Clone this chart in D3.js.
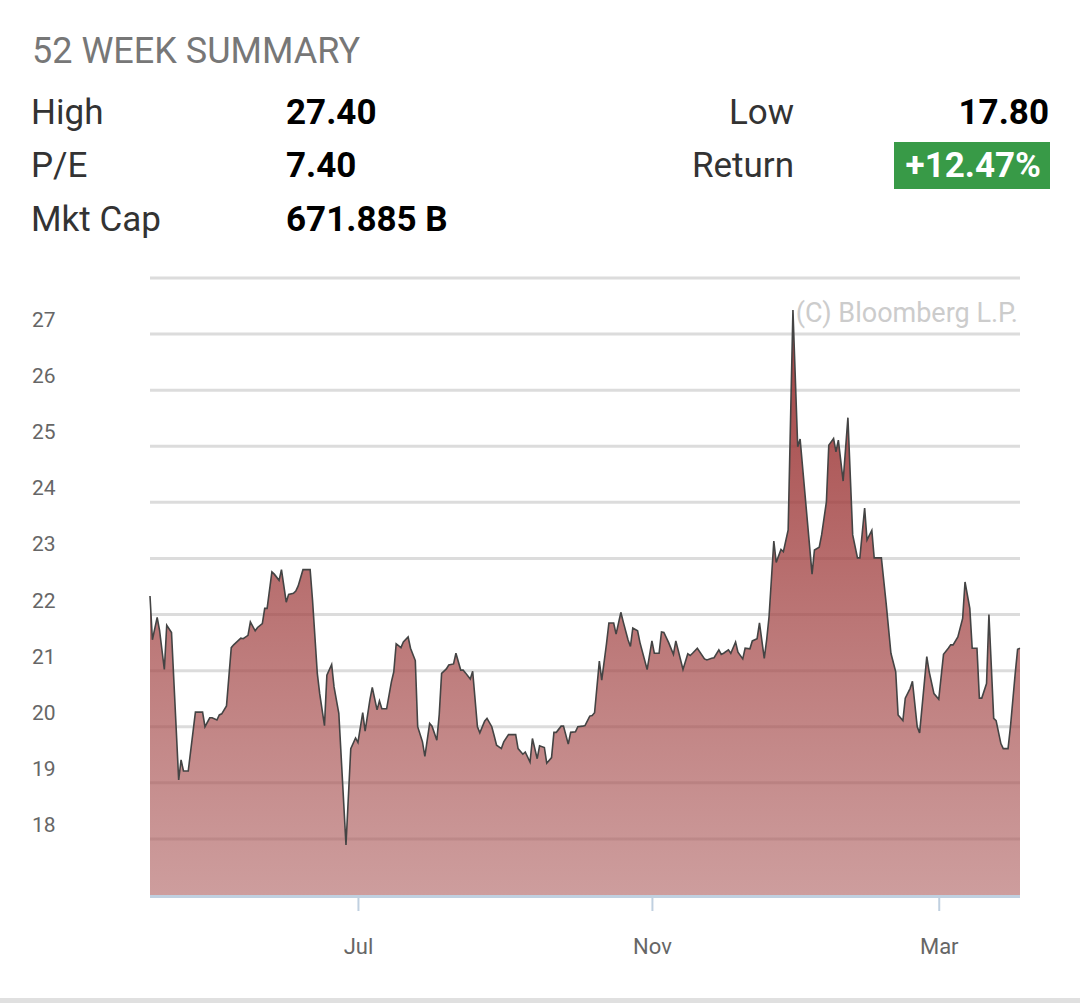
<!DOCTYPE html>
<html>
<head>
<meta charset="utf-8">
<script src="https://cdn.jsdelivr.net/npm/d3@7"></script>
<style>
  body { margin: 0; background: #fff; }
  svg { display: block; font-family: Roboto, "Noto Sans", sans-serif; }
</style>
</head>
<body>
<script>
// summary figures shown in the header
const summaryLeft = [["High", "27.40"], ["P/E", "7.40"], ["Mkt Cap", "671.885 B"]];
const summaryRight = [["Low", "17.80"], ["Return", "+12.47%"]];

// price path
const dates = [
  "2018-04-05","2018-04-06","2018-04-08","2018-04-09","2018-04-11","2018-04-12","2018-04-14","2018-04-17",
  "2018-04-18","2018-04-19","2018-04-21","2018-04-24","2018-04-27","2018-04-28","2018-04-30","2018-05-01",
  "2018-05-03","2018-05-04","2018-05-05","2018-05-07","2018-05-09","2018-05-10","2018-05-11","2018-05-13",
  "2018-05-14","2018-05-16","2018-05-17","2018-05-19","2018-05-20","2018-05-22","2018-05-23","2018-05-24",
  "2018-05-26","2018-05-27","2018-05-29","2018-05-30","2018-06-01","2018-06-02","2018-06-04","2018-06-05",
  "2018-06-06","2018-06-08","2018-06-09","2018-06-11","2018-06-12","2018-06-14","2018-06-15","2018-06-17",
  "2018-06-18","2018-06-20","2018-06-21","2018-06-23","2018-06-26","2018-06-28","2018-06-30","2018-07-01",
  "2018-07-03","2018-07-04","2018-07-06","2018-07-07","2018-07-09","2018-07-10","2018-07-11","2018-07-13",
  "2018-07-15","2018-07-16","2018-07-17","2018-07-19","2018-07-20","2018-07-22","2018-07-23","2018-07-25",
  "2018-07-26","2018-07-28","2018-07-29","2018-07-31","2018-08-01","2018-08-03","2018-08-04","2018-08-05",
  "2018-08-07","2018-08-08","2018-08-10","2018-08-11","2018-08-13","2018-08-14","2018-08-15","2018-08-17",
  "2018-08-18","2018-08-20","2018-08-21","2018-08-23","2018-08-24","2018-08-26","2018-08-27","2018-08-28",
  "2018-08-30","2018-08-31","2018-09-02","2018-09-03","2018-09-05","2018-09-06","2018-09-08","2018-09-09",
  "2018-09-11","2018-09-12","2018-09-14","2018-09-15","2018-09-17","2018-09-18","2018-09-20","2018-09-21",
  "2018-09-22","2018-09-24","2018-09-25","2018-09-27","2018-09-28","2018-09-30","2018-10-01","2018-10-03",
  "2018-10-04","2018-10-06","2018-10-07","2018-10-08","2018-10-10","2018-10-11","2018-10-13","2018-10-14",
  "2018-10-16","2018-10-17","2018-10-19","2018-10-20","2018-10-22","2018-10-23","2018-10-24","2018-10-26",
  "2018-10-27","2018-10-30","2018-11-01","2018-11-02","2018-11-04","2018-11-05","2018-11-06","2018-11-08",
  "2018-11-10","2018-11-11","2018-11-14","2018-11-16","2018-11-17","2018-11-18","2018-11-20","2018-11-23",
  "2018-11-24","2018-11-26","2018-11-27","2018-11-29","2018-11-30","2018-12-01","2018-12-03","2018-12-04",
  "2018-12-06","2018-12-07","2018-12-09","2018-12-10","2018-12-12","2018-12-13","2018-12-15","2018-12-16",
  "2018-12-18","2018-12-19","2018-12-20","2018-12-22","2018-12-23","2018-12-25","2018-12-26","2018-12-28",
  "2018-12-30","2019-01-01","2019-01-02","2019-01-07","2019-01-08","2019-01-10","2019-01-11","2019-01-13",
  "2019-01-14","2019-01-16","2019-01-17","2019-01-18","2019-01-20","2019-01-22","2019-01-24","2019-01-26",
  "2019-01-27","2019-01-29","2019-01-30","2019-02-01","2019-02-02","2019-02-04","2019-02-05","2019-02-07",
  "2019-02-09","2019-02-11","2019-02-12","2019-02-14","2019-02-15","2019-02-17","2019-02-18","2019-02-20",
  "2019-02-21","2019-02-24","2019-02-25","2019-02-27","2019-03-01","2019-03-03","2019-03-05","2019-03-06",
  "2019-03-07","2019-03-09","2019-03-11","2019-03-12","2019-03-14","2019-03-15","2019-03-17","2019-03-18",
  "2019-03-19","2019-03-21","2019-03-22","2019-03-24","2019-03-25","2019-03-27","2019-03-28","2019-03-30",
  "2019-03-31","2019-04-02","2019-04-03","2019-04-04"
];
const prices = [
  22.33,21.55,21.95,21.72,21.02,21.81,21.68,19.05,
  19.41,19.21,19.21,20.26,20.26,20.00,20.16,20.16,
  20.12,20.21,20.23,20.37,21.41,21.46,21.50,21.58,
  21.57,21.63,21.87,21.71,21.77,21.84,22.11,22.11,
  22.76,22.72,22.61,22.80,22.22,22.36,22.38,22.42,
  22.51,22.80,22.80,22.80,22.26,20.95,20.59,20.02,
  20.92,21.11,20.71,20.24,17.89,19.61,19.80,19.72,
  20.25,19.92,20.48,20.70,20.30,20.46,20.32,20.32,
  20.80,20.98,21.48,21.41,21.51,21.60,21.40,21.18,
  20.00,19.73,19.47,20.06,20.01,19.76,20.21,20.95,
  21.03,21.10,21.12,21.31,21.01,21.01,20.96,20.85,
  20.99,20.00,19.89,20.10,20.15,20.00,19.84,19.67,
  19.61,19.73,19.86,19.86,19.86,19.61,19.51,19.55,
  19.37,19.79,19.43,19.66,19.63,19.35,19.45,19.90,
  19.90,20.01,20.01,19.69,19.90,19.91,20.00,20.01,
  20.02,20.19,20.20,20.25,21.17,20.83,21.48,21.85,
  21.85,21.65,22.04,21.87,21.55,21.43,21.76,21.71,
  21.50,21.02,21.53,21.31,21.31,21.69,21.68,21.50,
  21.29,21.53,21.02,21.30,21.27,21.31,21.40,21.21,
  21.19,21.22,21.23,21.37,21.29,21.31,21.37,21.31,
  21.51,21.33,21.21,21.40,21.39,21.53,21.57,21.85,
  21.22,21.55,21.96,23.31,22.93,23.16,23.12,23.51,
  27.43,24.99,25.13,22.72,23.15,23.20,23.42,24.01,
  25.02,25.14,24.90,25.11,24.38,25.51,23.42,23.01,
  23.01,23.90,23.33,23.50,23.01,23.01,23.01,22.20,
  21.31,20.98,20.21,20.11,20.51,20.68,20.81,20.00,
  19.89,21.25,20.98,20.59,20.49,21.29,21.40,21.46,
  21.46,21.60,21.93,22.58,22.11,21.40,21.40,20.51,
  20.51,20.77,22.00,20.15,20.11,19.70,19.61,19.61,
  20.00,20.95,21.38,21.40
];

const yTicks = [18, 19, 20, 21, 22, 23, 24, 25, 26, 27];
const gridValues = [18, 19, 20, 21, 22, 23, 24, 25, 26, 27, 28];
const xTicks = ["2018-07-01", "2018-11-01", "2019-03-01"];
const xDomain = ["2018-04-05", "2019-04-04"];

const W = 1080, H = 1003;
const plot = {left: 150, right: 1020, top: 278, bottom: 895};

const parseDate = d3.timeParse("%Y-%m-%d");
var dataSet = dates.map(function(d, i) { return {date: parseDate(d), value: prices[i]}; });

var xScale = d3.scaleTime()
    .domain(xDomain.map(parseDate))
    .range([plot.left, plot.right]);

var yScale = d3.scaleLinear()
    .domain([17, 28])
    .range([plot.bottom, plot.top]);

var svg = d3.select("body").append("svg")
    .attr("width", W)
    .attr("height", H);

// ---- header ----
svg.append("text")
    .attr("x", 32).attr("y", 63)
    .style("font-size", "36px")
    .style("fill", "#777")
    .text("52 WEEK SUMMARY");

const rowY = [124, 177, 230.5];

summaryLeft.forEach(function(r, i) {
    svg.append("text")
        .attr("x", 31).attr("y", rowY[i])
        .style("font-size", "35px").style("fill", "#333")
        .text(r[0]);
    svg.append("text")
        .attr("x", 286).attr("y", rowY[i])
        .style("font-size", "35px").style("font-weight", "bold").style("fill", "#000")
        .text(r[1]);
});

summaryRight.forEach(function(r, i) {
    svg.append("text")
        .attr("x", 794).attr("y", rowY[i])
        .attr("text-anchor", "end")
        .style("font-size", "35px").style("fill", "#333")
        .text(r[0]);
    if (i === 1) {
        svg.append("rect")
            .attr("x", 894).attr("y", 142)
            .attr("width", 156).attr("height", 47)
            .style("fill", "#389a47");
        svg.append("text")
            .attr("x", 1041).attr("y", rowY[i])
            .attr("text-anchor", "end")
            .style("font-size", "35px").style("font-weight", "bold").style("fill", "#fff")
            .text(r[1]);
    } else {
        svg.append("text")
            .attr("x", 1049).attr("y", rowY[i])
            .attr("text-anchor", "end")
            .style("font-size", "35px").style("font-weight", "bold").style("fill", "#000")
            .text(r[1]);
    }
});

// ---- gradient for the area ----
var grad = svg.append("defs").append("linearGradient")
    .attr("id", "area-gradient")
    .attr("gradientUnits", "userSpaceOnUse")
    .attr("x1", 0).attr("y1", plot.top)
    .attr("x2", 0).attr("y2", plot.bottom);
grad.append("stop").attr("offset", "0%")
    .attr("stop-color", "rgb(150,38,38)").attr("stop-opacity", 0.9);
grad.append("stop").attr("offset", "100%")
    .attr("stop-color", "rgb(172,92,92)").attr("stop-opacity", 0.6);

// ---- grid ----
svg.append("g")
    .attr("class", "grid")
    .selectAll("line")
    .data(gridValues)
    .enter().append("line")
    .attr("x1", plot.left).attr("x2", plot.right)
    .attr("y1", function(d) { return yScale(d); })
    .attr("y2", function(d) { return yScale(d); })
    .style("stroke", "#dcdcdc")
    .style("stroke-width", 3);

svg.append("g")
    .selectAll("text")
    .data(yTicks)
    .enter().append("text")
    .attr("x", 32)
    .attr("y", function(d) { return yScale(d) - 7; })
    .style("font-size", "21px")
    .style("fill", "#666")
    .text(function(d) { return d; });

// ---- area + line ----
var area = d3.area()
    .x(function(d) { return xScale(d.date); })
    .y0(yScale(17))
    .y1(function(d) { return yScale(d.value); });

var line = d3.line()
    .x(function(d) { return xScale(d.date); })
    .y(function(d) { return yScale(d.value); });

svg.append("path")
    .datum(dataSet)
    .attr("d", area)
    .style("fill", "url(#area-gradient)");

svg.append("path")
    .datum(dataSet)
    .attr("d", line)
    .style("fill", "none")
    .style("stroke", "#444")
    .style("stroke-width", 1.6)
    .style("stroke-linejoin", "miter");

// ---- x axis ----
var xAxis = d3.axisBottom(xScale)
    .tickValues(xTicks.map(parseDate))
    .tickFormat(d3.timeFormat("%b"))
    .tickSize(15)
    .tickPadding(27);

var gx = svg.append("g")
    .attr("class", "x axis")
    .attr("transform", "translate(0," + (plot.bottom + 1) + ")")
    .call(xAxis);
gx.select(".domain").remove();
gx.selectAll(".tick line").style("stroke", "#c0d0e0").style("stroke-width", 2);
gx.selectAll(".tick text")
    .style("font-size", "22px")
    .style("font-family", "Roboto, sans-serif")
    .style("fill", "#666");

svg.append("line")
    .attr("x1", plot.left).attr("x2", plot.right)
    .attr("y1", plot.bottom + 1.5).attr("y2", plot.bottom + 1.5)
    .style("stroke", "#c0d0e0")
    .style("stroke-width", 3);

// ---- credit + bottom rule ----
svg.append("text")
    .attr("x", 1018).attr("y", 322)
    .attr("text-anchor", "end")
    .style("font-size", "27px")
    .style("fill", "#ccc")
    .text("(C) Bloomberg L.P.");

svg.append("rect")
    .attr("x", 0).attr("y", 998)
    .attr("width", W).attr("height", 5)
    .style("fill", "#e0e0e0");
</script>
</body>
</html>
